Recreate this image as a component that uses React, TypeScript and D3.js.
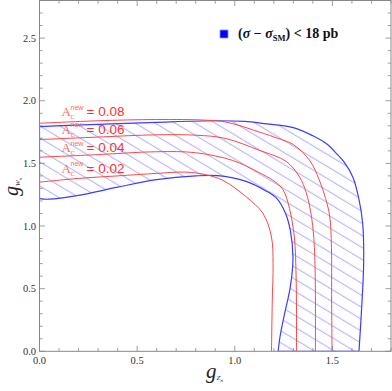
import React from 'react';
import * as d3 from 'd3';

// curves, [g_Zn, g_Wn]
const outerBlue: [number, number][] = [
  [0, 1.794], [0.3, 1.812], [0.6, 1.828], [0.9, 1.84], [1.05, 1.835], [1.15, 1.818],
  [1.3, 1.785], [1.4, 1.72], [1.47, 1.656], [1.52, 1.58], [1.56, 1.51], [1.605, 1.39],
  [1.635, 1.22], [1.655, 1.02], [1.66, 0.7], [1.648, 0.3], [1.636, 0]
];
const innerBlue: [number, number][] = [
  [0, 1.218], [0.05, 1.214], [0.2, 1.245], [0.4, 1.31], [0.6, 1.37], [0.8, 1.4],
  [0.91, 1.402], [1.05, 1.36], [1.16, 1.28], [1.215, 1.22], [1.26, 1.1], [1.285, 0.96],
  [1.298, 0.75], [1.285, 0.52], [1.255, 0.3], [1.232, 0.12], [1.222, 0]
];
const red08: [number, number][] = [
  [0, 1.82], [0.3, 1.84], [0.6, 1.85], [0.85, 1.845], [0.96, 1.828], [1.13, 1.748],
  [1.22, 1.7], [1.3, 1.65], [1.385, 1.52], [1.432, 1.37], [1.465, 1.22], [1.486, 1.08],
  [1.495, 0.83], [1.496, 0.4], [1.498, 0]
];
const red06: [number, number][] = [
  [0, 1.69], [0.3, 1.71], [0.6, 1.728], [0.8, 1.725], [0.95, 1.7], [1.128, 1.603],
  [1.264, 1.515], [1.332, 1.39], [1.365, 1.27], [1.39, 1.1], [1.405, 0.9], [1.412, 0.6],
  [1.413, 0.3], [1.413, 0]
];
const red04: [number, number][] = [
  [0, 1.549], [0.3, 1.57], [0.6, 1.593], [0.8, 1.585], [0.99, 1.523], [1.12, 1.43],
  [1.2, 1.36], [1.247, 1.29], [1.28, 1.14], [1.305, 0.912], [1.314, 0.6], [1.316, 0.3],
  [1.316, 0]
];
const red02: [number, number][] = [
  [0, 1.35], [0.2, 1.38], [0.4, 1.4], [0.6, 1.42], [0.75, 1.43], [0.85, 1.41],
  [0.94, 1.364], [1.06, 1.231], [1.145, 1.099], [1.188, 0.912], [1.196, 0.7],
  [1.192, 0.4], [1.188, 0]
];
const redCurves = [red08, red06, red04, red02];
const asymValues = ['0.08', '0.06', '0.04', '0.02'];
const labelY = [1.875, 1.737, 1.59, 1.426];

const xTicks = [0, 0.5, 1.0, 1.5];
const yTicks = [0, 0.5, 1.0, 1.5, 2.0, 2.5];

const W = 392, H = 391;

export default function App() {
  const x = d3.scaleLinear().domain([0, 1.8]).range([39.5, 391]);
  const y = d3.scaleLinear().domain([0, 2.8]).range([351.3, 0.5]);

  const line = d3.line<[number, number]>()
    .x(d => x(d[0])).y(d => y(d[1]))
    .curve(d3.curveCatmullRom.alpha(0.5));

  // band: outer curve, along the x axis, then inner curve back
  const band = line(outerBlue)! + 'L' + line([...innerBlue].reverse())!.slice(1) + 'Z';

  const minorX = d3.range(0, 1.81, 0.1);
  const minorY = d3.range(0, 2.81, 0.1);
  const fmt = d3.format('.1f');
  const x0 = x(0), x1 = x(1.8), y0 = y(0), y1 = y(2.8);
  const tickCol = '#888';
  const lx = x(0.113);

  return (
    <div style={{ position: 'absolute', left: 0, top: 0 }}>
      <svg width={W} height={H} style={{ display: 'block', background: '#fff' }}>
        <defs>
          <pattern id="hatch" patternUnits="userSpaceOnUse" width={10} height={10.3}
            patternTransform="rotate(31)">
            <line x1={0} x2={10} y1={5} y2={5} stroke="#a0a0ff" strokeWidth={0.9} />
          </pattern>
          <clipPath id="plot">
            <rect x={x0} y={y1} width={x1 - x0} height={y0 - y1} />
          </clipPath>
        </defs>

        <g clipPath="url(#plot)">
          <path d={band} fill="url(#hatch)" stroke="#3c3cff" strokeWidth={1.2} />
          {redCurves.map((c, i) => (
            <path key={i} d={line(c)!} fill="none" stroke="#ff4646" strokeWidth={1} />
          ))}
        </g>

        {/* frame */}
        <rect x={x0} y={y1} width={x1 - x0} height={y0 - y1} fill="none" stroke={tickCol} strokeWidth={1} />
        {minorX.map((v, i) => {
          const major = i % 5 === 0;
          const l = major ? 5.5 : 3.2;
          return (
            <g key={'x' + i} stroke={tickCol} strokeWidth={0.8}>
              <line x1={x(v)} x2={x(v)} y1={y0} y2={y0 - l} />
              <line x1={x(v)} x2={x(v)} y1={y1} y2={y1 + l} />
            </g>
          );
        })}
        {minorY.map((v, i) => {
          const major = i % 5 === 0;
          const l = major ? 5.5 : 3.2;
          return (
            <g key={'y' + i} stroke={tickCol} strokeWidth={0.8}>
              <line x1={x0} x2={x0 + l} y1={y(v)} y2={y(v)} />
              <line x1={x1} x2={x1 - l} y1={y(v)} y2={y(v)} />
            </g>
          );
        })}
        {xTicks.map(v => (
          <text key={'xl' + v} x={x(v)} y={364} textAnchor="middle"
            fontFamily="Liberation Serif" fontSize={10.5} fill="#333">{fmt(v)}</text>
        ))}
        {yTicks.map(v => (
          <text key={'yl' + v} x={36} y={y(v) + 3.5} textAnchor="end"
            fontFamily="Liberation Serif" fontSize={10.5} fill="#333">{fmt(v)}</text>
        ))}

        {/* axis titles */}
        <text x={206} y={378} fontFamily="Liberation Serif" fontStyle="italic" fontSize={21} fill="#222">
          g<tspan fontSize={7} dy={2}>Z</tspan><tspan fontSize={5} dy={1.5}>n</tspan>
        </text>
        <text transform="translate(18,196) rotate(-90)" fontFamily="Liberation Serif"
          fontStyle="italic" fontSize={20} fill="#222">
          g<tspan fontSize={7} dy={2}>W</tspan><tspan fontSize={5} dy={1.5}>n</tspan>
        </text>

        {/* asymmetry labels */}
        {asymValues.map((v, i) => {
          const by = y(labelY[i]);
          return (
            <g key={'a' + v}>
              <text x={lx} y={by} fontFamily="Liberation Serif" fontSize={13} fill="#ff6a6a">A</text>
              <text x={lx + 9} y={by + 3} fontFamily="Liberation Serif" fontSize={7} fill="#ff6a6a">C</text>
              <text x={lx + 9} y={by - 6.5} fontFamily="Liberation Sans" fontSize={7} fill="#ff6a6a">new</text>
              <text x={lx + 25} y={by} fontFamily="Liberation Sans" fontSize={13.5} fill="#ff3030">= {v}</text>
            </g>
          );
        })}

        {/* legend */}
        <rect x={220} y={30} width={8} height={8} fill="#0000ff" stroke="#9090ff" strokeWidth={0.8} />
        <text x={238} y={37.5} fontFamily="Liberation Serif" fontWeight="bold" fontSize={14} fill="#111">
          (<tspan fontStyle="italic">σ</tspan> − <tspan fontStyle="italic">σ</tspan>
          <tspan fontSize={8.5} dy={3}>SM</tspan><tspan dy={-3}>) &lt; 18 pb</tspan>
        </text>
      </svg>
    </div>
  );
}
